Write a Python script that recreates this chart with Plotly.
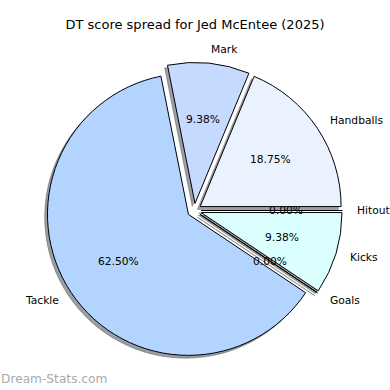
import math
import plotly.graph_objects as go

# ---- data ----
labels = ["Hitout", "Handballs", "Mark", "Tackle", "Goals", "Kicks"]
values = [0, 6, 3, 20, 0, 3]
colors = ["#e6f0ff", "#ebf2ff", "#c6daff", "#b3d4ff", "#d0e4ff", "#dbffff"]
explode = [0.05, 0.05, 0.05, 0.05, 0.05, 0.05]
title_text = "DT score spread for Jed McEntee (2025)"
watermark = "Dream-Stats.com"

# ---- layout geometry (pixels) ----
W = H = 390
cx_px, cy_px = 194.3, 210.5          # pie centre (from top-left)
half_box = 148.0                      # half of the pie domain box
shadow_off = 2.8                      # shadow offset (left / down)
FONT = "DejaVu Sans"
LBL = 10.7


def dom(cx, cy):
    return dict(
        x=[(cx - half_box) / W, (cx + half_box) / W],
        y=[1 - (cy + half_box) / H, 1 - (cy - half_box) / H],
    )


def shade(hexc):
    h = hexc.lstrip("#")
    r, g, b = (int(h[i:i + 2], 16) for i in (0, 2, 4))
    return "rgba(%d,%d,%d,0.5)" % (r * 0.3, g * 0.3, b * 0.3)


shadow_cols = [shade(c) for c in colors]

fig = go.Figure()
# shadow
fig.add_trace(go.Pie(
    labels=labels, values=values, sort=False, direction="counterclockwise",
    rotation=90, pull=explode, textinfo="none", hoverinfo="skip",
    marker=dict(colors=shadow_cols, line=dict(color=shadow_cols, width=0.8)),
    domain=dom(cx_px - shadow_off, cy_px + shadow_off), showlegend=False,
))
# main pie
fig.add_trace(go.Pie(
    labels=labels, values=values, sort=False, direction="counterclockwise",
    rotation=90, pull=explode, textinfo="none", hoverinfo="skip",
    marker=dict(colors=colors, line=dict(color="#000000", width=1)),
    domain=dom(cx_px, cy_px), showlegend=False,
))

# text positions computed from data the way matplotlib places them
maxpull = max(explode)
r = half_box / (1 + maxpull)
total = sum(values)
annotations = []
theta1 = 0.0
for lab, v, ex in zip(labels, values, explode):
    theta2 = theta1 + 360.0 * v / total
    tm = math.radians((theta1 + theta2) / 2)
    dx, dy = math.cos(tm), -math.sin(tm)
    # percentage
    px = cx_px + (ex + 0.6) * r * dx
    py = cy_px + (ex + 0.6) * r * dy
    annotations.append(dict(
        x=px / W, y=1 - py / H, xref="paper", yref="paper", showarrow=False,
        text="%.2f%%" % (100.0 * v / total), xanchor="center", yanchor="middle",
        font=dict(family=FONT, size=LBL, color="black"), borderpad=0,
    ))
    # label
    lx = cx_px + (ex + 1.1) * r * dx
    ly = cy_px + (ex + 1.1) * r * dy
    annotations.append(dict(
        x=lx / W, y=1 - ly / H, xref="paper", yref="paper", showarrow=False,
        text=lab, xanchor="left" if dx > 0 else "right", yanchor="middle",
        font=dict(family=FONT, size=LBL, color="black"), borderpad=0,
    ))
    theta1 = theta2

annotations.append(dict(
    x=0, y=1 - 379 / H, xref="paper", yref="paper", showarrow=False,
    text=watermark, xanchor="left", yanchor="middle", borderpad=0,
    font=dict(family=FONT, size=12.2, color="#aaaaaa"),
))

fig.update_layout(
    width=W, height=H, margin=dict(l=0, r=0, t=0, b=0),
    paper_bgcolor="white", plot_bgcolor="white",
    title=dict(text=title_text, x=0.5, xanchor="center", y=1 - 24 / H,
               yanchor="middle", font=dict(family=FONT, size=13, color="black")),
    annotations=annotations, showlegend=False,
)

fig.write_html(
    "out.html",
    config={"displayModeBar": False},
    post_script="document.body.style.margin='0';document.body.style.padding='0';",
)
